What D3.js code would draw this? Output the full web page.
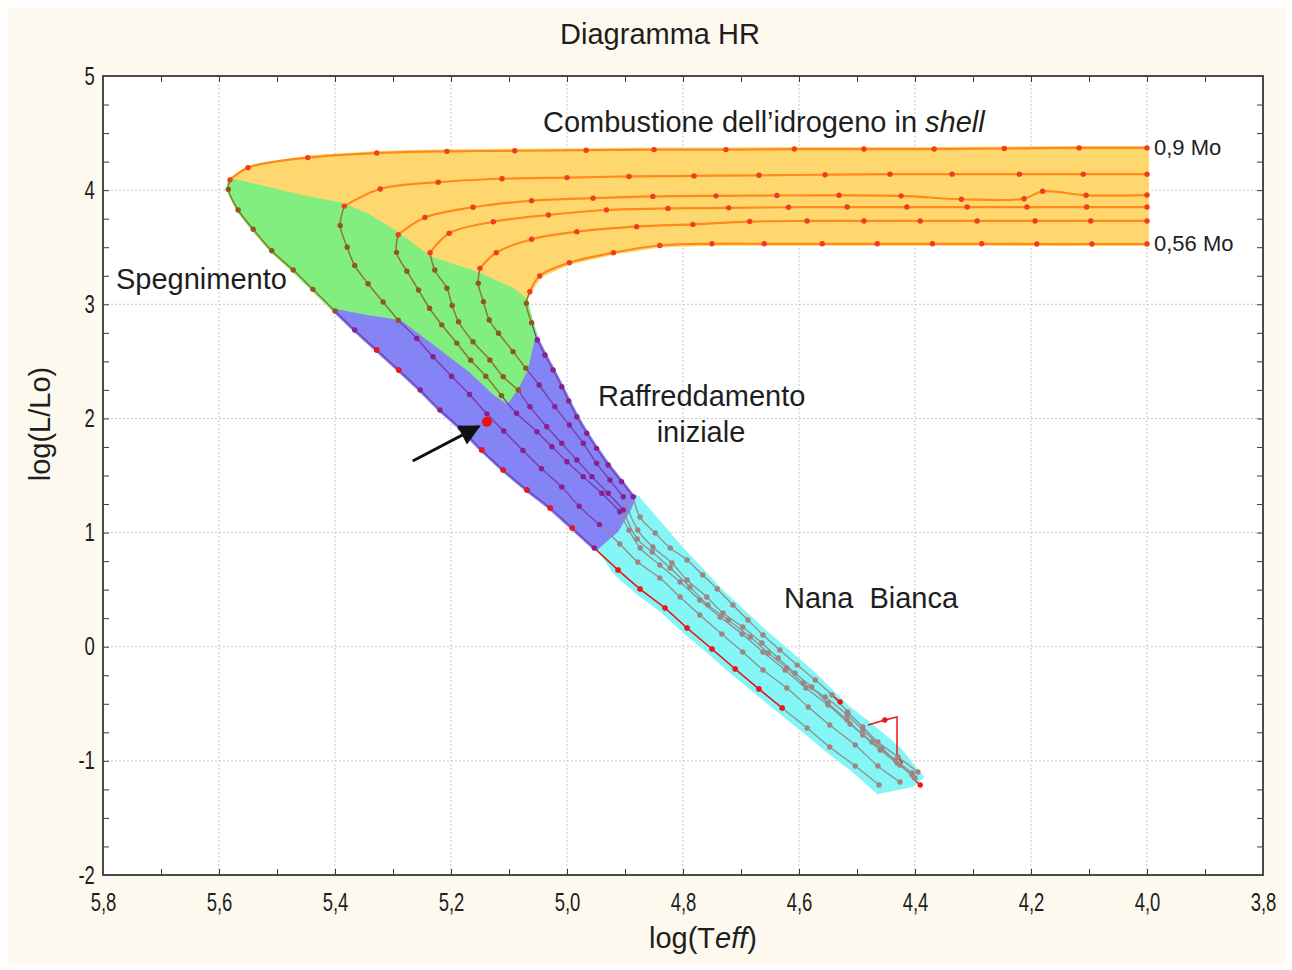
<!DOCTYPE html>
<html>
<head>
<meta charset="utf-8">
<script src="https://cdn.jsdelivr.net/npm/d3@7"></script>
<style>
  body { margin: 0; background: #fff; }
  svg text { font-family: "Liberation Sans", Arial, sans-serif; fill: #1e1e1e; }
</style>
</head>
<body>
<script>
// masses of the six tracks (top to bottom on the right edge)
var masses = ["0,9 Mo", "0,8", "0,7", "0,65", "0,6", "0,56 Mo"];

// log(Teff), log(L/Lo), one array per track and phase
var shellTracks = [
  [[4.00,4.37],[4.117,4.37],[4.246,4.365],[4.367,4.36],[4.488,4.36],[4.608,4.36],[4.726,4.355],[4.85,4.355],[4.967,4.35],[5.09,4.345],[5.207,4.34],[5.328,4.325],[5.447,4.285],[5.55,4.197],[5.581,4.09]],
  [[4.00,4.14],[4.11,4.14],[4.22,4.14],[4.336,4.14],[4.443,4.14],[4.555,4.135],[4.669,4.13],[4.781,4.125],[4.893,4.12],[5.0,4.11],[5.112,4.10],[5.222,4.07],[5.322,4.01],[5.384,3.86]],
  [[4.00,3.957],[4.105,3.955],[4.18,3.99],[4.212,3.925],[4.32,3.92],[4.424,3.95],[4.531,3.955],[4.638,3.953],[4.743,3.95],[4.852,3.945],[4.955,3.93],[5.061,3.907],[5.162,3.85],[5.245,3.76],[5.291,3.61]],
  [[4.00,3.852],[4.104,3.852],[4.207,3.852],[4.31,3.852],[4.414,3.852],[4.517,3.852],[4.618,3.85],[4.721,3.845],[4.826,3.84],[4.932,3.826],[5.032,3.782],[5.127,3.723],[5.203,3.622],[5.236,3.452]],
  [[4.00,3.73],[4.097,3.73],[4.193,3.73],[4.293,3.73],[4.391,3.73],[4.488,3.73],[4.586,3.73],[4.685,3.725],[4.783,3.70],[4.88,3.68],[4.983,3.636],[5.061,3.57],[5.122,3.452],[5.15,3.315]],
  [[4.00,3.528],[4.095,3.528],[4.19,3.528],[4.285,3.53],[4.37,3.53],[4.465,3.53],[4.56,3.53],[4.66,3.53],[4.75,3.53],[4.84,3.515],[4.92,3.452],[4.996,3.364],[5.047,3.248],[5.064,3.11]]
];

var offTracks = [
  [[5.584,4.007],[5.567,3.826],[5.541,3.657],[5.509,3.469],[5.472,3.30],[5.438,3.131],[5.40,2.941]],
  [[5.391,3.69],[5.379,3.50],[5.366,3.34],[5.343,3.18],[5.317,3.02],[5.291,2.86]],
  [[5.294,3.455],[5.276,3.29],[5.256,3.125],[5.237,2.965],[5.216,2.82],[5.19,2.66],[5.166,2.51],[5.14,2.37],[5.113,2.20]],
  [[5.228,3.30],[5.207,3.14],[5.198,2.99],[5.187,2.847],[5.162,2.672],[5.133,2.512],[5.110,2.366],[5.084,2.249]],
  [[5.153,3.184],[5.144,3.023],[5.134,2.862],[5.118,2.746],[5.093,2.585],[5.071,2.439]],
  [[5.07,3.009],[5.061,2.839]]
];

var coolTracks = [
  [[5.366,2.775],[5.328,2.60],[5.29,2.424],[5.253,2.249],[5.219,2.074],[5.184,1.916],[5.147,1.723],[5.11,1.548],[5.069,1.373],[5.029,1.215],[4.991,1.04],[4.953,0.865]],
  [[5.259,2.70],[5.231,2.54],[5.199,2.37],[5.168,2.21],[5.138,2.04],[5.109,1.89],[5.076,1.72],[5.044,1.56],[5.009,1.40],[4.979,1.23],[4.944,1.07]],
  [[5.087,2.045],[5.052,1.884],[5.026,1.752],[5.0,1.621],[4.972,1.49],[4.94,1.344],[4.909,1.183]],
  [[5.064,2.103],[5.035,1.927],[5.009,1.782],[4.983,1.636],[4.957,1.49],[4.929,1.344],[4.903,1.198]],
  [[5.048,2.293],[5.021,2.103],[4.996,1.942],[4.972,1.782],[4.949,1.607],[4.926,1.46],[4.903,1.314]],
  [[5.051,2.687],[5.038,2.556],[5.024,2.424],[5.009,2.278],[4.997,2.153],[4.983,2.015],[4.966,1.87],[4.949,1.738],[4.929,1.592],[4.906,1.446],[4.886,1.314]]
];

var wdTracks = [
  [[4.912,0.672],[4.874,0.505],[4.831,0.339],[4.793,0.164],[4.750,-0.020],[4.710,-0.195],[4.669,-0.371],[4.629,-0.537],[4.586,-0.712],[4.547,-0.879],[4.503,-1.045],[4.462,-1.212]],
  [[4.909,0.90],[4.878,0.742],[4.840,0.602],[4.805,0.435],[4.771,0.278],[4.733,0.111],[4.697,-0.046],[4.662,-0.204],[4.621,-0.362],[4.584,-0.528],[4.547,-0.686],[4.503,-0.861],[4.464,-1.045],[4.426,-1.185]],
  [[4.893,1.02],[4.874,0.865],[4.840,0.716],[4.805,0.567],[4.771,0.409],[4.736,0.260],[4.698,0.111],[4.662,-0.046],[4.624,-0.204],[4.588,-0.362],[4.550,-0.511],[4.512,-0.677],[4.474,-0.835],[4.434,-0.993],[4.405,-1.106]],
  [[4.879,0.944],[4.853,0.830],[4.822,0.690],[4.788,0.523],[4.757,0.365],[4.722,0.234],[4.684,0.085],[4.653,-0.055],[4.621,-0.187],[4.593,-0.318],[4.555,-0.441],[4.517,-0.598],[4.490,-0.730],[4.457,-0.888],[4.426,-1.036],[4.400,-1.150]],
  [[4.878,1.022],[4.852,0.873],[4.819,0.733],[4.793,0.584],[4.759,0.435],[4.731,0.295],[4.697,0.173],[4.664,0.032],[4.636,-0.099],[4.607,-0.231],[4.578,-0.353],[4.550,-0.493],[4.517,-0.642],[4.490,-0.774],[4.460,-0.905],[4.431,-1.019],[4.405,-1.124]],
  [[4.874,1.136],[4.848,0.996],[4.822,0.865],[4.793,0.760],[4.766,0.628],[4.741,0.506],[4.714,0.365],[4.688,0.234],[4.662,0.102],[4.633,-0.029],[4.603,-0.161],[4.572,-0.292],[4.543,-0.423],[4.516,-0.572],[4.490,-0.704],[4.464,-0.835],[4.429,-0.966],[4.395,-1.098]]
];

// red segments and points drawn over the tracks
var redPaths = [
  [[4.953,0.865],[4.912,0.672],[4.874,0.505],[4.831,0.339],[4.793,0.164],[4.750,-0.020],[4.710,-0.195],[4.669,-0.371],[4.629,-0.537]],
  [[4.547,-0.406],[4.529,-0.485]],
  [[4.481,-0.686],[4.452,-0.642],[4.431,-0.616],[4.431,-0.966],[4.421,-1.019]],
  [[4.405,-1.15],[4.391,-1.212]]
];
var redDots = [[5.328,2.60],[5.29,2.424],[5.147,1.723],[5.11,1.548],[5.069,1.373],[5.029,1.215],[4.991,1.04],
  [4.912,0.672],[4.874,0.505],[4.831,0.339],[4.793,0.164],[4.750,-0.020],[4.710,-0.195],[4.669,-0.371],[4.629,-0.537],
  [4.529,-0.485],[4.452,-0.642],[4.391,-1.212]];

// region borders that are not tracks
var shellOffBoundary = [[5.581,4.089],[5.460,3.943],[5.386,3.870],[5.345,3.782],[5.294,3.622],[5.236,3.403],[5.156,3.271],[5.093,3.125],[5.072,3.037]];
var offCoolBoundary = [[5.052,2.70],[5.055,2.626],[5.064,2.424],[5.081,2.249],[5.102,2.10],[5.128,2.188],[5.172,2.398],[5.231,2.626],[5.288,2.845],[5.345,2.889],[5.40,2.941]];
var coolWdBoundary = [[4.953,0.865],[4.943,0.847],[4.909,0.996],[4.886,1.198],[4.878,1.303]];
var wdRegion = [[4.878,1.303],[4.805,0.873],[4.736,0.497],[4.662,0.146],[4.576,-0.231],[4.517,-0.528],[4.472,-0.704],[4.426,-0.905],[4.403,-1.054],[4.388,-1.142],
  [4.405,-1.212],[4.464,-1.273],[4.509,-1.071],[4.552,-0.905],[4.591,-0.739],[4.634,-0.563],[4.674,-0.397],[4.716,-0.222],[4.755,-0.046],[4.798,0.138],[4.836,0.313],[4.879,0.479],[4.917,0.646],[4.943,0.847],[4.909,0.996],[4.886,1.198]];

// highlighted star and arrow
var starPoint = [5.138, 1.97];
var arrowFrom = [5.266, 1.627];
var arrowTo = [5.152, 1.93];

var xTicks = [5.8, 5.6, 5.4, 5.2, 5.0, 4.8, 4.6, 4.4, 4.2, 4.0, 3.8];
var yTicks = [-2, -1, 0, 1, 2, 3, 4, 5];

/***** Layout *****/
var W = 1292, H = 970;
var margin = {top: 76, right: 29, bottom: 95, left: 103};
var width = W - margin.left - margin.right;
var height = H - margin.top - margin.bottom;

var x = d3.scaleLinear().domain([5.8, 3.8]).range([0, width]);
var y = d3.scaleLinear().domain([-2, 5]).range([height, 0]);

var locale = d3.formatLocale({decimal: ",", thousands: ".", grouping: [3], currency: ["", ""], minus: "-"});
var fmtX = locale.format(".1f");
var fmtY = locale.format("d");

var svg = d3.select("body").append("svg")
  .attr("width", W)
  .attr("height", H);

svg.append("rect").attr("width", W).attr("height", H).attr("fill", "#fff");
svg.append("rect").attr("x", 8).attr("y", 8).attr("width", W - 14).attr("height", H - 14).attr("fill", "#fdf9ee");

var g = svg.append("g").attr("transform", "translate(" + margin.left + "," + margin.top + ")");

g.append("rect").attr("width", width).attr("height", height).attr("fill", "#fff");

// grid
g.append("g").selectAll("line").data(xTicks.slice(1, -1)).join("line")
  .attr("x1", d => x(d)).attr("x2", d => x(d)).attr("y1", 0).attr("y2", height)
  .attr("stroke", "#c9c9c9").attr("stroke-dasharray", "2,2");
g.append("g").selectAll("line").data(yTicks.slice(1, -1)).join("line")
  .attr("y1", d => y(d)).attr("y2", d => y(d)).attr("x1", 0).attr("x2", width)
  .attr("stroke", "#c9c9c9").attr("stroke-dasharray", "2,2");

/***** Regions *****/
var area = d3.line().x(d => x(d[0])).y(d => y(d[1])).curve(d3.curveLinearClosed);

var shellRegion = shellTracks[0].concat(shellOffBoundary, shellTracks[5].slice().reverse());
var offRegion = shellOffBoundary.concat(offTracks[5], offCoolBoundary, offTracks[0].slice().reverse());
var coolRegion = coolTracks[0].concat(coolWdBoundary, coolTracks[5].slice().reverse(), offCoolBoundary);

var regions = [
  {pts: shellRegion, color: "#fed86e"},
  {pts: offRegion, color: "#82ee7f"},
  {pts: coolRegion, color: "#8484f6"},
  {pts: wdRegion, color: "#84f6f6"}
];
g.append("g").selectAll("path").data(regions).join("path")
  .attr("d", d => area(d.pts))
  .attr("fill", d => d.color)
  .attr("stroke", d => d.color)
  .attr("stroke-width", 4)
  .attr("stroke-linejoin", "round");

/***** Tracks *****/
var phaseStyle = [
  {line: "#ff8a1c", dot: "#ee3e1e", w: 2.2},
  {line: "#8c7a28", dot: "#8c5a1e", w: 1.5},
  {line: "#7c3aa2", dot: "#88208e", w: 1.3},
  {line: "#8e8e8e", dot: "#a08484", w: 1.3}
];
var phases = [shellTracks, offTracks, coolTracks, wdTracks];

var line = d3.line().x(d => x(d[0])).y(d => y(d[1])).curve(d3.curveCatmullRom.alpha(0.5));

var segments = [];
var dots = [];
masses.forEach(function(m, i) {
  var prev = null;
  phases.forEach(function(ph, p) {
    var pts = ph[i];
    segments.push({pts: prev ? [prev].concat(pts) : pts, style: phaseStyle[p]});
    pts.forEach(function(d) { dots.push({d: d, style: phaseStyle[p]}); });
    prev = pts[pts.length - 1];
  });
});

g.append("g").selectAll("path").data(segments).join("path")
  .attr("d", d => line(d.pts))
  .attr("fill", "none")
  .attr("stroke", d => d.style.line)
  .attr("stroke-width", d => d.style.w);

g.append("g").selectAll("path").data(redPaths).join("path")
  .attr("d", d3.line().x(d => x(d[0])).y(d => y(d[1])))
  .attr("fill", "none")
  .attr("stroke", "#f01414")
  .attr("stroke-width", 1.5);

g.append("g").selectAll("circle").data(dots).join("circle")
  .attr("cx", d => x(d.d[0])).attr("cy", d => y(d.d[1]))
  .attr("r", 2.7)
  .attr("fill", d => d.style.dot);

g.append("g").selectAll("circle").data(redDots).join("circle")
  .attr("cx", d => x(d[0])).attr("cy", d => y(d[1]))
  .attr("r", 2.7)
  .attr("fill", "#f01414");

// star and arrow
g.append("circle").attr("cx", x(starPoint[0])).attr("cy", y(starPoint[1])).attr("r", 5).attr("fill", "#ee1010");

svg.append("defs").append("marker")
  .attr("id", "head").attr("viewBox", "0 0 10 10").attr("refX", 9).attr("refY", 5)
  .attr("markerWidth", 9).attr("markerHeight", 7).attr("orient", "auto")
  .append("path").attr("d", "M0,0L10,5L0,10Z").attr("fill", "#111");

g.append("line")
  .attr("x1", x(arrowFrom[0])).attr("y1", y(arrowFrom[1]))
  .attr("x2", x(arrowTo[0])).attr("y2", y(arrowTo[1]))
  .attr("stroke", "#111").attr("stroke-width", 3)
  .attr("marker-end", "url(#head)");

/***** Axes *****/
var xMinor = d3.range(38, 59).map(v => v / 10);
var yMinor = d3.range(-8, 21).map(v => v / 4);

g.append("g").attr("transform", "translate(0," + height + ")")
  .call(d3.axisBottom(x).tickValues(xMinor).tickSize(-6).tickFormat(""));
g.append("g")
  .call(d3.axisTop(x).tickValues(xMinor).tickSize(-6).tickFormat(""));
g.append("g")
  .call(d3.axisLeft(y).tickValues(yMinor).tickSize(-6).tickFormat(""));
g.append("g").attr("transform", "translate(" + width + ",0)")
  .call(d3.axisRight(y).tickValues(yMinor).tickSize(-6).tickFormat(""));

var xAxis = g.append("g").attr("transform", "translate(0," + height + ")")
  .call(d3.axisBottom(x).tickValues(xTicks).tickSize(0).tickPadding(18).tickFormat(fmtX));
var yAxis = g.append("g")
  .call(d3.axisLeft(y).tickValues(yTicks).tickSize(0).tickPadding(11).tickFormat(fmtY));

g.selectAll(".domain").remove();
g.selectAll(".tick line").attr("stroke", "#3a3a3a");
[xAxis, yAxis].forEach(function(a) {
  a.selectAll("text")
    .style("font-family", "'Liberation Sans', Arial, sans-serif")
    .style("font-size", "25px")
    .attr("fill", "#333")
    .attr("transform", "scale(0.74,1)");
});

g.append("rect").attr("width", width).attr("height", height)
  .attr("fill", "none").attr("stroke", "#4a4a4a").attr("stroke-width", 2);

/***** Texts *****/
var fs = "29px";
svg.append("text").attr("x", 660).attr("y", 44).attr("text-anchor", "middle")
  .style("font-size", fs).text("Diagramma HR");

svg.append("text").attr("x", 40).attr("y", 424)
  .attr("transform", "rotate(-90,40,424)")
  .attr("text-anchor", "middle").attr("dy", "0.35em")
  .style("font-size", fs).text("log(L/Lo)");

var xl = svg.append("text").attr("x", 703).attr("y", 948).attr("text-anchor", "middle")
  .style("font-size", fs);
xl.append("tspan").text("log(T");
xl.append("tspan").style("font-style", "italic").text("eff");
xl.append("tspan").text(")");

var ct = g.append("text").attr("x", 440).attr("y", 56).style("font-size", fs);
ct.append("tspan").text("Combustione dell\u2019idrogeno in ");
ct.append("tspan").style("font-style", "italic").text("shell");

g.append("text").attr("x", 13).attr("y", 213).style("font-size", fs).text("Spegnimento");
g.append("text").attr("x", 495).attr("y", 330).style("font-size", fs).text("Raffreddamento");
g.append("text").attr("x", 598).attr("y", 366).attr("text-anchor", "middle").style("font-size", fs).text("iniziale");
g.append("text").attr("x", 681).attr("y", 532).style("font-size", fs)
  .style("white-space", "pre").text("Nana  Bianca");

[0, 5].forEach(function(i) {
  var end = shellTracks[i][0];
  g.append("text").attr("x", x(end[0]) + 7).attr("y", y(end[1]) + 7)
    .style("font-size", "22px").text(masses[i]);
});
</script>
</body>
</html>
